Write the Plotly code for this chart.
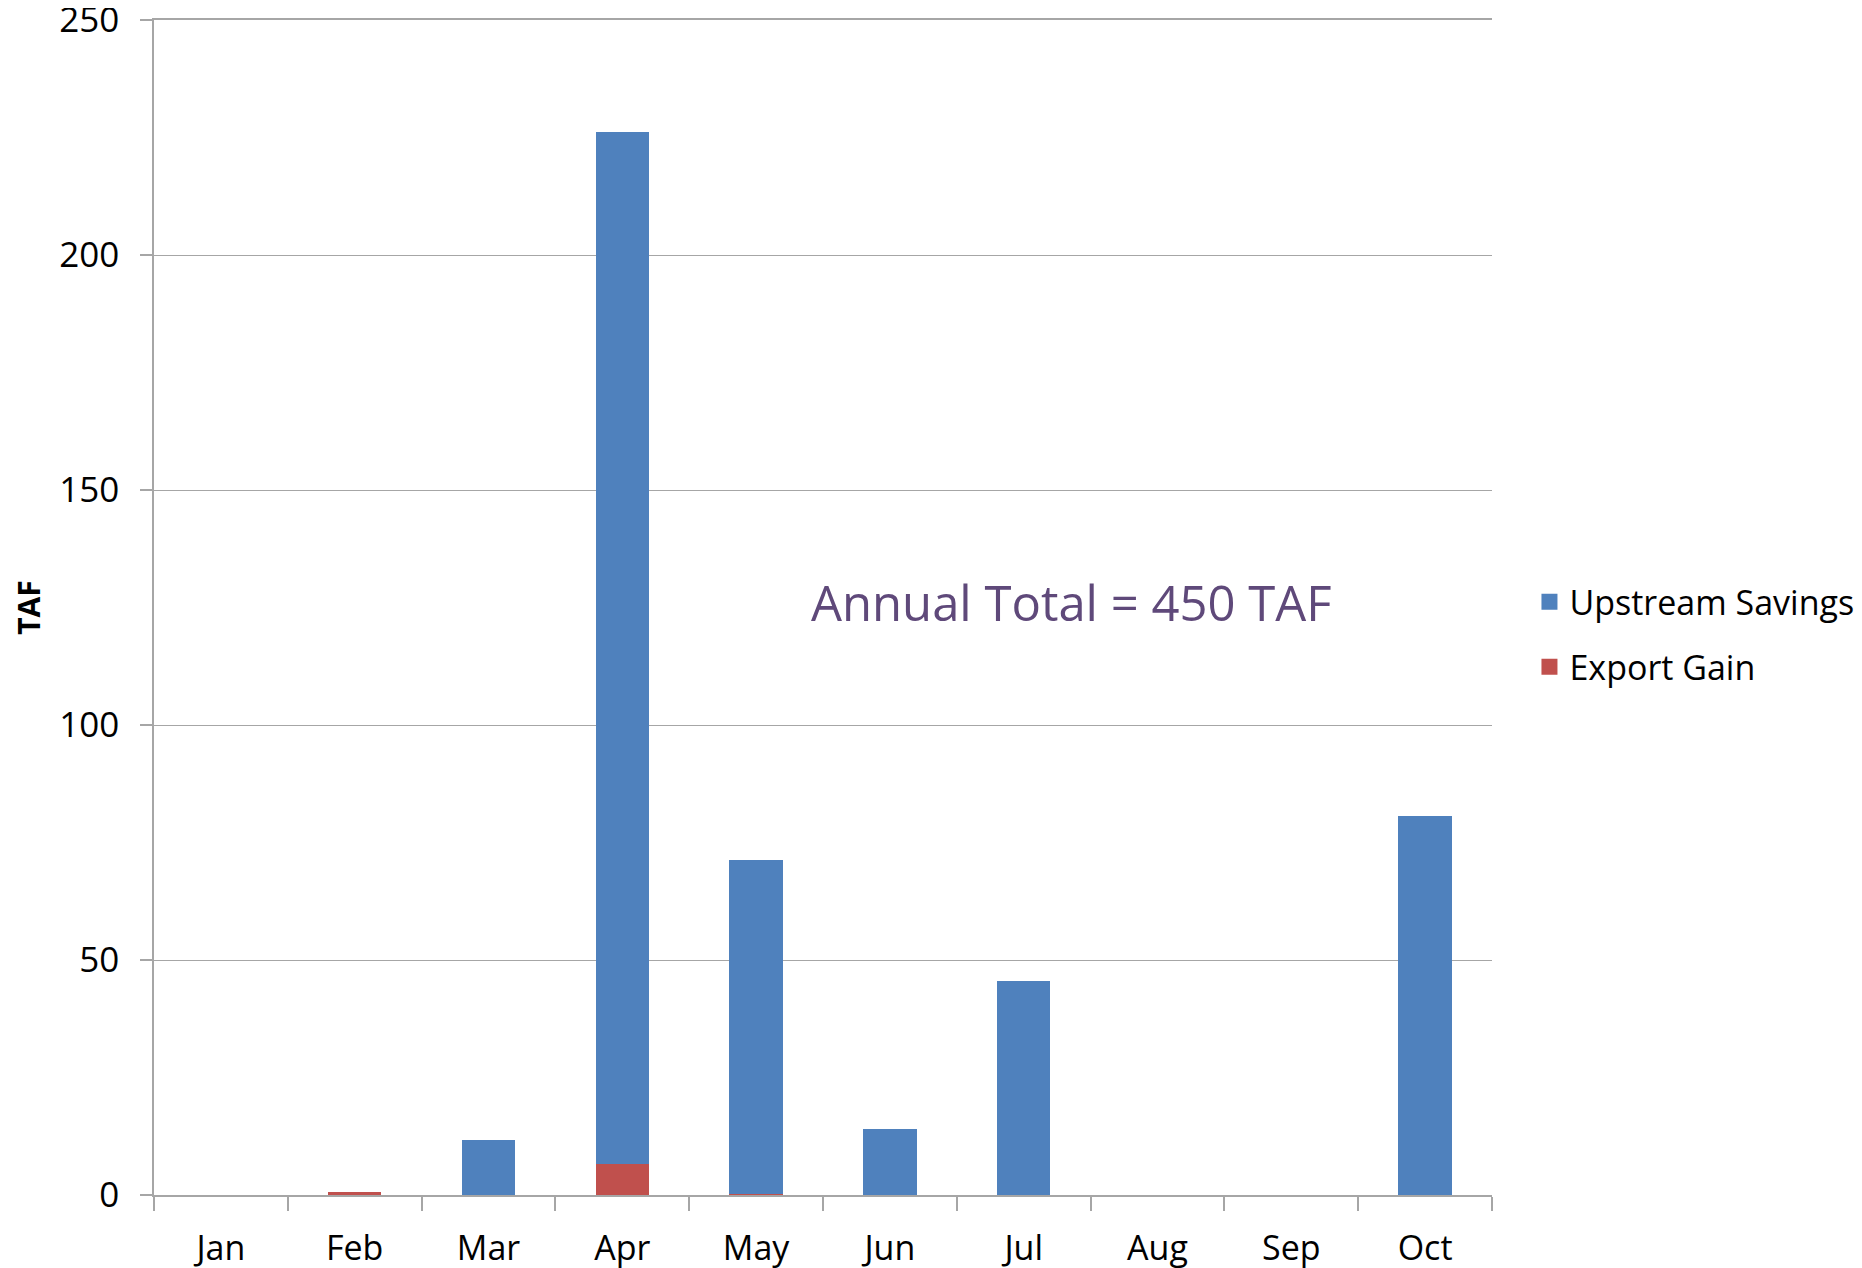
import plotly.graph_objects as go

months = ["Jan", "Feb", "Mar", "Apr", "May", "Jun", "Jul", "Aug", "Sep", "Oct"]
export_gain = [0, 0.7, 0, 6.6, 0.3, 0, 0, 0, 0, 0]
upstream_savings = [0, 0, 11.7, 219.6, 71.0, 14.0, 45.5, 0, 0, 80.7]
y_ticks = [0, 50, 100, 150, 200, 250]

FONT = "Open Sans"
GRID = "#A6A6A6"
BLUE = "#4F81BD"
RED = "#C0504D"

fig = go.Figure()
fig.add_trace(go.Bar(x=months, y=export_gain, name="Export Gain",
                     marker=dict(color=RED, line=dict(width=0)),
                     showlegend=False))
fig.add_trace(go.Bar(x=months, y=upstream_savings, name="Upstream Savings",
                     marker=dict(color=BLUE, line=dict(width=0)),
                     showlegend=False))
# legend entries with larger square swatches
fig.add_trace(go.Scatter(x=[None], y=[None], mode="markers", name="Upstream Savings",
                         marker=dict(symbol="square", size=20, color=BLUE),
                         legendgroup="a", legendrank=1))
fig.add_trace(go.Scatter(x=[None], y=[None], mode="markers", name="Export Gain",
                         marker=dict(symbol="square", size=20, color=RED),
                         legendgroup="b", legendrank=2))

fig.update_layout(
    width=1862, height=1268,
    barmode="stack", bargap=0.6,
    plot_bgcolor="white", paper_bgcolor="white",
    margin=dict(l=146, r=378, t=12, b=81, autoexpand=False),
    font=dict(family=FONT, size=34, color="black"),
    showlegend=True,
    legend=dict(x=1.028, y=0.477, xanchor="left", yanchor="middle",
                traceorder="grouped", tracegroupgap=18,
                itemsizing="trace",
                font=dict(family=FONT, size=34, color="black"),
                itemwidth=30),
    annotations=[dict(text="Annual Total = 450 TAF", x=0.686, y=0.505,
                      xref="paper", yref="paper", showarrow=False,
                      xanchor="center", yanchor="middle",
                      font=dict(family=FONT, size=49, color="#5F497A"))],
)
fig.update_xaxes(
    type="category", categoryorder="array", categoryarray=months,
    automargin=False, showline=True, mirror=True, linecolor=GRID, linewidth=1.5,
    ticks="outside", tickson="boundaries", ticklen=14, tickcolor=GRID,
    tickwidth=1.5, showgrid=False, ticklabelstandoff=22,
    tickfont=dict(family=FONT, size=34),
)
fig.update_yaxes(
    range=[0, 250], tickvals=y_ticks, automargin=False,
    showline=True, linecolor=GRID,
    linewidth=1.5, ticks="outside", ticklen=12, tickcolor=GRID, tickwidth=1.5,
    showgrid=True, gridcolor=GRID, gridwidth=1.3, zeroline=False,
    ticklabelstandoff=14, ticklabeloverflow="allow",
    tickfont=dict(family=FONT, size=35),
    title=dict(text="<b>TAF</b>", font=dict(family=FONT, size=30), standoff=14),
)

fig.write_html("out.html")
